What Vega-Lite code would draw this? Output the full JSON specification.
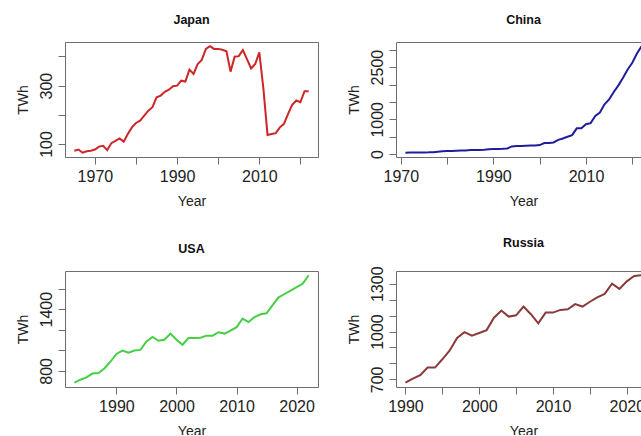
{
  "$schema": "https://vega.github.io/schema/vega-lite/v6.json",
  "padding": {"left": 15, "top": 13, "right": -9, "bottom": -4},
  "autosize": {"type": "pad"},
  "config": {
    "font": "Liberation Sans",
    "view": {"stroke": "#6e6e6e", "strokeWidth": 1},
    "axis": {"grid": false, "domain": false, "tickColor": "#6e6e6e", "tickSize": 7, "tickWidth": 1, "labelFontSize": 16, "labelColor": "#222222", "labelFont": "Liberation Sans", "titleFont": "Liberation Sans", "titleFontSize": 14, "titleFontWeight": "normal", "titleColor": "#222222", "labelOverlap": false, "labelFlush": false, "labelBound": false},
    "axisX": {"labelPadding": 4, "titlePadding": 10.5, "labelAngle": 0},
    "axisY": {"labelAngle": -90, "labelAlign": "center", "labelBaseline": "bottom", "labelPadding": 4, "titlePadding": 8},
    "title": {"font": "Liberation Sans", "fontSize": 12.5, "fontWeight": "bold", "color": "#111111", "offset": 16, "baseline": "alphabetic", "frame": "group", "anchor": "middle"}
  },
  "data": {"values": [
    {"country": "Japan", "year": 1965, "twh": 77}, {"country": "Japan", "year": 1966, "twh": 81}, {"country": "Japan", "year": 1967, "twh": 70}, {"country": "Japan", "year": 1968, "twh": 75}, {"country": "Japan", "year": 1969, "twh": 77}, {"country": "Japan", "year": 1970, "twh": 81}, {"country": "Japan", "year": 1971, "twh": 91}, {"country": "Japan", "year": 1972, "twh": 94}, {"country": "Japan", "year": 1973, "twh": 79}, {"country": "Japan", "year": 1974, "twh": 103}, {"country": "Japan", "year": 1975, "twh": 111}, {"country": "Japan", "year": 1976, "twh": 119}, {"country": "Japan", "year": 1977, "twh": 108}, {"country": "Japan", "year": 1978, "twh": 134}, {"country": "Japan", "year": 1979, "twh": 157}, {"country": "Japan", "year": 1980, "twh": 172}, {"country": "Japan", "year": 1981, "twh": 180}, {"country": "Japan", "year": 1982, "twh": 197}, {"country": "Japan", "year": 1983, "twh": 214}, {"country": "Japan", "year": 1984, "twh": 226}, {"country": "Japan", "year": 1985, "twh": 260}, {"country": "Japan", "year": 1986, "twh": 266}, {"country": "Japan", "year": 1987, "twh": 279}, {"country": "Japan", "year": 1988, "twh": 286}, {"country": "Japan", "year": 1989, "twh": 298}, {"country": "Japan", "year": 1990, "twh": 300}, {"country": "Japan", "year": 1991, "twh": 317}, {"country": "Japan", "year": 1992, "twh": 314}, {"country": "Japan", "year": 1993, "twh": 355}, {"country": "Japan", "year": 1994, "twh": 340}, {"country": "Japan", "year": 1995, "twh": 374}, {"country": "Japan", "year": 1996, "twh": 388}, {"country": "Japan", "year": 1997, "twh": 426}, {"country": "Japan", "year": 1998, "twh": 435}, {"country": "Japan", "year": 1999, "twh": 426}, {"country": "Japan", "year": 2000, "twh": 426}, {"country": "Japan", "year": 2001, "twh": 423}, {"country": "Japan", "year": 2002, "twh": 418}, {"country": "Japan", "year": 2003, "twh": 348}, {"country": "Japan", "year": 2004, "twh": 399}, {"country": "Japan", "year": 2005, "twh": 401}, {"country": "Japan", "year": 2006, "twh": 422}, {"country": "Japan", "year": 2007, "twh": 391}, {"country": "Japan", "year": 2008, "twh": 359}, {"country": "Japan", "year": 2009, "twh": 374}, {"country": "Japan", "year": 2010, "twh": 414}, {"country": "Japan", "year": 2011, "twh": 289}, {"country": "Japan", "year": 2012, "twh": 131}, {"country": "Japan", "year": 2013, "twh": 134}, {"country": "Japan", "year": 2014, "twh": 137}, {"country": "Japan", "year": 2015, "twh": 157}, {"country": "Japan", "year": 2016, "twh": 169}, {"country": "Japan", "year": 2017, "twh": 203}, {"country": "Japan", "year": 2018, "twh": 234}, {"country": "Japan", "year": 2019, "twh": 249}, {"country": "Japan", "year": 2020, "twh": 243}, {"country": "Japan", "year": 2021, "twh": 281}, {"country": "Japan", "year": 2022, "twh": 281},
    {"country": "China", "year": 1971, "twh": 38}, {"country": "China", "year": 1972, "twh": 42}, {"country": "China", "year": 1973, "twh": 45}, {"country": "China", "year": 1974, "twh": 45}, {"country": "China", "year": 1975, "twh": 48}, {"country": "China", "year": 1976, "twh": 50}, {"country": "China", "year": 1977, "twh": 55}, {"country": "China", "year": 1978, "twh": 67}, {"country": "China", "year": 1979, "twh": 80}, {"country": "China", "year": 1980, "twh": 86}, {"country": "China", "year": 1981, "twh": 88}, {"country": "China", "year": 1982, "twh": 95}, {"country": "China", "year": 1983, "twh": 100}, {"country": "China", "year": 1984, "twh": 105}, {"country": "China", "year": 1985, "twh": 114}, {"country": "China", "year": 1986, "twh": 118}, {"country": "China", "year": 1987, "twh": 120}, {"country": "China", "year": 1988, "twh": 124}, {"country": "China", "year": 1989, "twh": 135}, {"country": "China", "year": 1990, "twh": 143}, {"country": "China", "year": 1991, "twh": 148}, {"country": "China", "year": 1992, "twh": 152}, {"country": "China", "year": 1993, "twh": 162}, {"country": "China", "year": 1994, "twh": 219}, {"country": "China", "year": 1995, "twh": 229}, {"country": "China", "year": 1996, "twh": 232}, {"country": "China", "year": 1997, "twh": 238}, {"country": "China", "year": 1998, "twh": 245}, {"country": "China", "year": 1999, "twh": 248}, {"country": "China", "year": 2000, "twh": 258}, {"country": "China", "year": 2001, "twh": 315}, {"country": "China", "year": 2002, "twh": 320}, {"country": "China", "year": 2003, "twh": 334}, {"country": "China", "year": 2004, "twh": 410}, {"country": "China", "year": 2005, "twh": 448}, {"country": "China", "year": 2006, "twh": 496}, {"country": "China", "year": 2007, "twh": 544}, {"country": "China", "year": 2008, "twh": 740}, {"country": "China", "year": 2009, "twh": 744}, {"country": "China", "year": 2010, "twh": 859}, {"country": "China", "year": 2011, "twh": 890}, {"country": "China", "year": 2012, "twh": 1097}, {"country": "China", "year": 2013, "twh": 1193}, {"country": "China", "year": 2014, "twh": 1431}, {"country": "China", "year": 2015, "twh": 1574}, {"country": "China", "year": 2016, "twh": 1784}, {"country": "China", "year": 2017, "twh": 1975}, {"country": "China", "year": 2018, "twh": 2195}, {"country": "China", "year": 2019, "twh": 2433}, {"country": "China", "year": 2020, "twh": 2624}, {"country": "China", "year": 2021, "twh": 2891}, {"country": "China", "year": 2022, "twh": 3100},
    {"country": "USA", "year": 1983, "twh": 685}, {"country": "USA", "year": 1984, "twh": 714}, {"country": "USA", "year": 1985, "twh": 737}, {"country": "USA", "year": 1986, "twh": 774}, {"country": "USA", "year": 1987, "twh": 780}, {"country": "USA", "year": 1988, "twh": 823}, {"country": "USA", "year": 1989, "twh": 889}, {"country": "USA", "year": 1990, "twh": 965}, {"country": "USA", "year": 1991, "twh": 998}, {"country": "USA", "year": 1992, "twh": 978}, {"country": "USA", "year": 1993, "twh": 998}, {"country": "USA", "year": 1994, "twh": 1004}, {"country": "USA", "year": 1995, "twh": 1087}, {"country": "USA", "year": 1996, "twh": 1130}, {"country": "USA", "year": 1997, "twh": 1093}, {"country": "USA", "year": 1998, "twh": 1103}, {"country": "USA", "year": 1999, "twh": 1163}, {"country": "USA", "year": 2000, "twh": 1103}, {"country": "USA", "year": 2001, "twh": 1054}, {"country": "USA", "year": 2002, "twh": 1120}, {"country": "USA", "year": 2003, "twh": 1120}, {"country": "USA", "year": 2004, "twh": 1123}, {"country": "USA", "year": 2005, "twh": 1143}, {"country": "USA", "year": 2006, "twh": 1143}, {"country": "USA", "year": 2007, "twh": 1176}, {"country": "USA", "year": 2008, "twh": 1163}, {"country": "USA", "year": 2009, "twh": 1192}, {"country": "USA", "year": 2010, "twh": 1225}, {"country": "USA", "year": 2011, "twh": 1308}, {"country": "USA", "year": 2012, "twh": 1275}, {"country": "USA", "year": 2013, "twh": 1324}, {"country": "USA", "year": 2014, "twh": 1351}, {"country": "USA", "year": 2015, "twh": 1360}, {"country": "USA", "year": 2016, "twh": 1440}, {"country": "USA", "year": 2017, "twh": 1515}, {"country": "USA", "year": 2018, "twh": 1548}, {"country": "USA", "year": 2019, "twh": 1581}, {"country": "USA", "year": 2020, "twh": 1614}, {"country": "USA", "year": 2021, "twh": 1647}, {"country": "USA", "year": 2022, "twh": 1730},
    {"country": "Russia", "year": 1990, "twh": 679}, {"country": "Russia", "year": 1991, "twh": 704}, {"country": "Russia", "year": 1992, "twh": 726}, {"country": "Russia", "year": 1993, "twh": 774}, {"country": "Russia", "year": 1994, "twh": 774}, {"country": "Russia", "year": 1995, "twh": 826}, {"country": "Russia", "year": 1996, "twh": 881}, {"country": "Russia", "year": 1997, "twh": 960}, {"country": "Russia", "year": 1998, "twh": 996}, {"country": "Russia", "year": 1999, "twh": 974}, {"country": "Russia", "year": 2000, "twh": 991}, {"country": "Russia", "year": 2001, "twh": 1009}, {"country": "Russia", "year": 2002, "twh": 1087}, {"country": "Russia", "year": 2003, "twh": 1132}, {"country": "Russia", "year": 2004, "twh": 1094}, {"country": "Russia", "year": 2005, "twh": 1102}, {"country": "Russia", "year": 2006, "twh": 1157}, {"country": "Russia", "year": 2007, "twh": 1109}, {"country": "Russia", "year": 2008, "twh": 1051}, {"country": "Russia", "year": 2009, "twh": 1119}, {"country": "Russia", "year": 2010, "twh": 1119}, {"country": "Russia", "year": 2011, "twh": 1136}, {"country": "Russia", "year": 2012, "twh": 1140}, {"country": "Russia", "year": 2013, "twh": 1172}, {"country": "Russia", "year": 2014, "twh": 1157}, {"country": "Russia", "year": 2015, "twh": 1187}, {"country": "Russia", "year": 2016, "twh": 1215}, {"country": "Russia", "year": 2017, "twh": 1236}, {"country": "Russia", "year": 2018, "twh": 1300}, {"country": "Russia", "year": 2019, "twh": 1268}, {"country": "Russia", "year": 2020, "twh": 1315}, {"country": "Russia", "year": 2021, "twh": 1349}, {"country": "Russia", "year": 2022, "twh": 1353}
  ]},
  "columns": 2,
  "spacing": {"row": 114, "column": 78},
  "bounds": "flush",
  "align": "each",
  "concat": [
    {
      "title": "Japan",
      "width": 253, "height": 115,
      "transform": [{"filter": "datum.country === 'Japan'"}],
      "mark": {"type": "line", "color": "#CD2626", "strokeWidth": 2, "clip": true},
      "encoding": {
        "x": {"field": "year", "type": "quantitative", "scale": {"domain": [1962.72, 2024.28], "nice": false, "zero": false},
              "axis": {"title": "Year", "format": "d", "values": [1970, 1980, 1990, 2000, 2010, 2020], "labelExpr": "(datum.value == 1970 || datum.value == 1990 || datum.value == 2010) ? datum.label : ''"}},
        "y": {"field": "twh", "type": "quantitative", "scale": {"domain": [55.4, 449.6], "nice": false, "zero": false},
              "axis": {"title": "TWh", "format": "d", "values": [100, 200, 300, 400], "labelExpr": "(datum.value == 100 || datum.value == 300) ? datum.label : ''"}}
      }
    },
    {
      "title": "China",
      "width": 255, "height": 115,
      "transform": [{"filter": "datum.country === 'China'"}],
      "mark": {"type": "line", "color": "#1E1E9A", "strokeWidth": 2, "clip": true},
      "encoding": {
        "x": {"field": "year", "type": "quantitative", "scale": {"domain": [1968.96, 2024.04], "nice": false, "zero": false},
              "axis": {"title": "Year", "format": "d", "values": [1970, 1980, 1990, 2000, 2010, 2020], "labelExpr": "(datum.value == 1970 || datum.value == 1990 || datum.value == 2010) ? datum.label : ''"}},
        "y": {"field": "twh", "type": "quantitative", "scale": {"domain": [-84.5, 3222.5], "nice": false, "zero": false},
              "axis": {"title": "TWh", "format": "d", "values": [0, 500, 1000, 1500, 2000, 2500, 3000], "labelExpr": "(datum.value == 0 || datum.value == 1000 || datum.value == 2500) ? datum.label : ''"}}
      }
    },
    {
      "title": "USA",
      "width": 253, "height": 116,
      "transform": [{"filter": "datum.country === 'USA'"}],
      "mark": {"type": "line", "color": "#45CF45", "strokeWidth": 2, "clip": true},
      "encoding": {
        "x": {"field": "year", "type": "quantitative", "scale": {"domain": [1981.44, 2023.56], "nice": false, "zero": false},
              "axis": {"title": "Year", "format": "d", "values": [1990, 2000, 2010, 2020]}},
        "y": {"field": "twh", "type": "quantitative", "scale": {"domain": [643.2, 1771.8], "nice": false, "zero": false},
              "axis": {"title": "TWh", "format": "d", "values": [800, 1000, 1200, 1400, 1600], "labelExpr": "(datum.value == 800 || datum.value == 1400) ? datum.label : ''"}}
      }
    },
    {
      "title": "Russia",
      "width": 255, "height": 116,
      "transform": [{"filter": "datum.country === 'Russia'"}],
      "mark": {"type": "line", "color": "#8B3A3A", "strokeWidth": 2, "clip": true},
      "encoding": {
        "x": {"field": "year", "type": "quantitative", "scale": {"domain": [1988.72, 2023.28], "nice": false, "zero": false},
              "axis": {"title": "Year", "format": "d", "values": [1990, 1995, 2000, 2005, 2010, 2015, 2020], "labelExpr": "(datum.value % 10 == 0) ? datum.label : ''"}},
        "y": {"field": "twh", "type": "quantitative", "scale": {"domain": [652, 1380], "nice": false, "zero": false},
              "axis": {"title": "TWh", "format": "d", "values": [700, 800, 900, 1000, 1100, 1200, 1300], "labelExpr": "(datum.value == 700 || datum.value == 1000 || datum.value == 1300) ? datum.label : ''"}}
      }
    }
  ]
}
